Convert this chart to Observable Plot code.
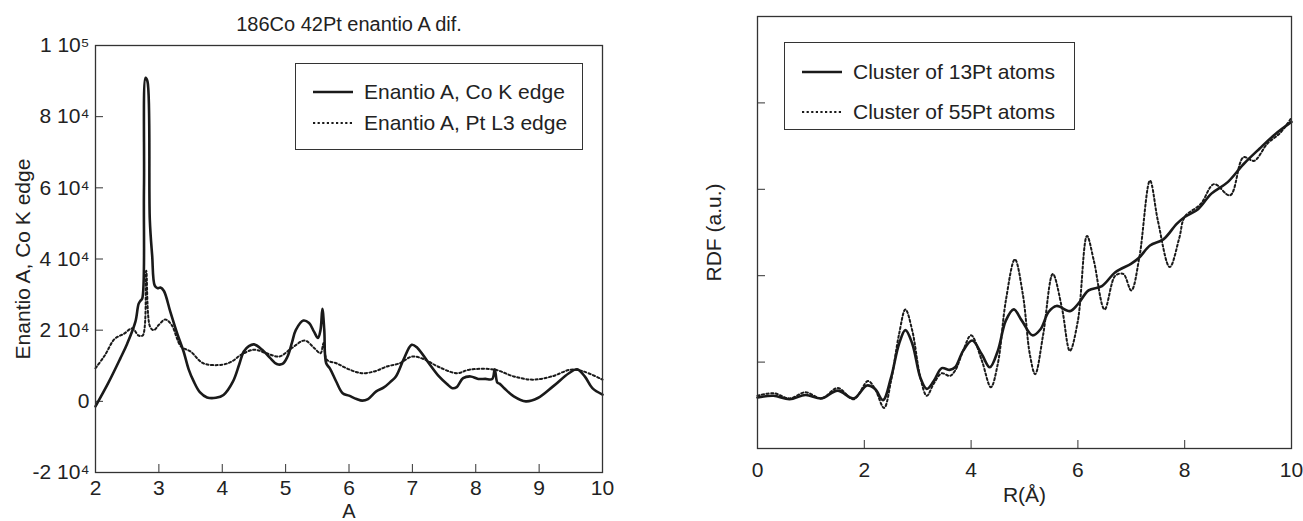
<!DOCTYPE html>
<html><head><meta charset="utf-8">
<script src="https://cdn.jsdelivr.net/npm/d3@7"></script>
<script src="https://cdn.jsdelivr.net/npm/@observablehq/plot@0.6"></script>
<style>
body{margin:0;background:#fff;font-family:"Liberation Sans",Arial,sans-serif;}
#wrap{position:relative;width:1303px;height:521px;overflow:hidden;background:#fff;}
.chart{position:absolute;top:0;}
.legend{position:absolute;border:1.3px solid #333;background:#fff;box-sizing:border-box;}
.item{position:absolute;display:flex;align-items:center;font-size:21px;color:#222;white-space:nowrap;height:24px;}
.item svg{margin-right:11px;}
</style></head><body><div id="wrap"></div><script>
// ---------- Left chart data ----------
const leftTitle = "186Co 42Pt enantio A dif.";
const leftXLabel = "A";
const leftYLabel = "Enantio A, Co K edge";
const leftSeriesNames = ["Enantio A, Co K edge", "Enantio A, Pt L3 edge"];
const leftXTicks = [2, 3, 4, 5, 6, 7, 8, 9, 10];
const leftYTicks = [-20000, 0, 20000, 40000, 60000, 80000, 100000];
const leftYTickLabels = ["-2 10\u2074", "0", "2 10\u2074", "4 10\u2074", "6 10\u2074", "8 10\u2074", "1 10\u2075"];

const coK_x = [2.0, 2.2, 2.39, 2.5, 2.63, 2.68, 2.71, 2.736, 2.765, 2.79, 2.82, 2.857, 2.894, 2.935, 2.98, 3.025, 3.08, 3.18, 3.29, 3.39, 3.47, 3.55, 3.65, 3.76, 3.9, 4.02, 4.17, 4.27, 4.34, 4.42, 4.5, 4.63, 4.75, 4.86, 4.95, 5.03, 5.1, 5.16, 5.28, 5.37, 5.45, 5.51, 5.55, 5.58, 5.61, 5.64, 5.7, 5.8, 5.9, 6.0, 6.12, 6.21, 6.3, 6.43, 6.55, 6.65, 6.74, 6.86, 6.99, 7.08, 7.24, 7.42, 7.55, 7.63, 7.7, 7.8, 7.92, 8.04, 8.15, 8.26, 8.3, 8.34, 8.38, 8.45, 8.6, 8.79, 8.98, 9.22, 9.47, 9.6, 9.72, 9.84, 10.0];
const coK_y = [-1400, 5100, 12000, 16200, 22400, 27400, 28300, 28800, 60000, 90900, 89900, 51000, 41000, 32500, 31800, 32000, 31000, 25200, 19000, 14000, 9000, 5600, 2500, 1100, 1000, 1800, 5600, 10500, 14000, 15500, 16000, 14500, 12300, 10500, 10500, 12600, 16500, 20000, 22700, 22000, 19500, 17800, 20000, 26000, 20000, 10700, 9200, 5500, 2300, 1600, 650, 190, 650, 2800, 3900, 5400, 7000, 11700, 15900, 15000, 11200, 7000, 4800, 3700, 4000, 6500, 7000, 6300, 6300, 6300, 9000, 5300, 4900, 3700, 1400, 0, 930, 4200, 7900, 9000, 7000, 3700, 1900];

const ptL3_x = [2.0, 2.15, 2.3, 2.45, 2.58, 2.68, 2.745, 2.8, 2.86, 2.92, 3.0, 3.1, 3.2, 3.35, 3.5, 3.7, 4.0, 4.15, 4.3, 4.5, 4.7, 4.9, 5.1, 5.3, 5.45, 5.55, 5.6, 5.65, 5.8, 6.0, 6.2, 6.4, 6.6, 6.8, 7.0, 7.2, 7.4, 7.7, 7.9, 8.3, 8.6, 8.9, 9.2, 9.5, 9.7, 10.0];
const ptL3_y = [9300, 13000, 17500, 19000, 20500, 18500, 18500, 36700, 21000, 20000, 21500, 23000, 21500, 15400, 14000, 10700, 10300, 11200, 13100, 14500, 13500, 12600, 15000, 17100, 15000, 13500, 16400, 11700, 10700, 9000, 7900, 8400, 9800, 10700, 12600, 11700, 9800, 7900, 8900, 8900, 7000, 6100, 7000, 8900, 8400, 6100];

// ---------- Right chart data ----------
const rightXLabel = "R(\u00c5)";
const rightYLabel = "RDF (a.u.)";
const rightSeriesNames = ["Cluster of 13Pt atoms", "Cluster of 55Pt atoms"];
const rightXTicks = [0, 2, 4, 6, 8, 10];
const rightYTicks = [1, 2, 3, 4];

const pt13_x = [0, 0.3, 0.6, 0.9, 1.2, 1.5, 1.8, 2.05, 2.2, 2.35, 2.5, 2.65, 2.77, 2.9, 3.05, 3.17, 3.3, 3.45, 3.6, 3.7, 3.85, 4.02, 4.2, 4.35, 4.5, 4.65, 4.8, 4.95, 5.15, 5.3, 5.45, 5.6, 5.85, 6.0, 6.2, 6.45, 6.7, 7.0, 7.15, 7.35, 7.6, 7.85, 8.0, 8.25, 8.5, 8.8, 9.1, 9.4, 9.7, 10.0];
const pt13_y = [0.59, 0.61, 0.57, 0.62, 0.58, 0.67, 0.58, 0.73, 0.69, 0.56, 0.82, 1.21, 1.37, 1.21, 0.82, 0.69, 0.78, 0.93, 0.91, 0.94, 1.13, 1.25, 1.09, 0.94, 1.13, 1.48, 1.61, 1.48, 1.31, 1.38, 1.58, 1.65, 1.59, 1.67, 1.83, 1.88, 2.04, 2.14, 2.21, 2.35, 2.42, 2.6, 2.68, 2.77, 2.95, 3.08, 3.29, 3.47, 3.64, 3.78];

const pt55_x = [0, 0.3, 0.6, 0.9, 1.2, 1.5, 1.8, 2.07, 2.2, 2.37, 2.5, 2.65, 2.77, 2.9, 3.05, 3.17, 3.3, 3.45, 3.6, 3.7, 3.85, 4.0, 4.2, 4.37, 4.5, 4.65, 4.82, 4.97, 5.1, 5.2, 5.35, 5.53, 5.7, 5.85, 6.0, 6.17, 6.3, 6.5, 6.7, 6.85, 7.0, 7.15, 7.35, 7.5, 7.72, 7.9, 8.0, 8.3, 8.55, 8.85, 9.1, 9.3, 9.55, 9.8, 10.0];
const pt55_y = [0.61, 0.64, 0.58, 0.65, 0.58, 0.7, 0.57, 0.78, 0.69, 0.47, 0.78, 1.32, 1.61, 1.36, 0.82, 0.61, 0.75, 0.87, 0.84, 0.9, 1.13, 1.31, 1.02, 0.71, 0.98, 1.71, 2.19, 1.78, 1.09, 0.86, 1.32, 2.02, 1.63, 1.13, 1.48, 2.46, 2.17, 1.61, 2.0, 2.02, 1.83, 2.21, 3.1, 2.63, 2.1, 2.44, 2.68, 2.83, 3.06, 2.93, 3.37, 3.33, 3.53, 3.66, 3.83];

const INK = "#1a1a1a";
const FONT = "'Liberation Sans', Arial, sans-serif";
const DOTS = "2.2,2.4";
const zip = (xs, ys) => xs.map((x, i) => ({x, y: ys[i]}));

const wrap = document.getElementById("wrap");

// ---------- Left chart ----------
const leftLabelMap = new Map(leftYTicks.map((v, i) => [v, leftYTickLabels[i]]));
const leftPlot = Plot.plot({
  width: 650, height: 521,
  marginLeft: 95, marginRight: 48, marginTop: 45, marginBottom: 49,
  style: {fontFamily: FONT, fontSize: "21px", color: "#222", background: "transparent", overflow: "visible"},
  x: {domain: [2, 10]},
  y: {domain: [-20000, 100000]},
  marks: [
    Plot.axisX({ticks: leftXTicks, tickSize: 8, dy: -8, tickPadding: 8, label: null, stroke: "#333"}),
    Plot.axisY({ticks: leftYTicks, tickSize: 8, dx: 8, tickPadding: 6, label: null, tickFormat: d => leftLabelMap.get(d), stroke: "#333"}),
    Plot.line(zip(ptL3_x, ptL3_y), {x: "x", y: "y", stroke: INK, strokeWidth: 2, strokeDasharray: DOTS, curve: "catmull-rom"}),
    Plot.line(zip(coK_x, coK_y), {x: "x", y: "y", stroke: INK, strokeWidth: 2.6, curve: "catmull-rom"}),
    Plot.frame({stroke: "#333", strokeWidth: 1.3}),
    Plot.text([leftTitle], {frameAnchor: "top", lineAnchor: "middle", dy: -21, fontSize: 20, fill: "#222"}),
    Plot.text([leftXLabel], {frameAnchor: "bottom", lineAnchor: "bottom", textAnchor: "middle", dy: 45, fontSize: 20, fill: "#222"}),
    Plot.text([leftYLabel], {frameAnchor: "left", textAnchor: "middle", lineAnchor: "middle", dx: -72, rotate: -90, fontSize: 21, fill: "#222"})
  ]
});
leftPlot.classList.add("chart");
leftPlot.style.left = "0px";
wrap.appendChild(leftPlot);

// ---------- Right chart ----------
const rightPlot = Plot.plot({
  width: 623, height: 521,
  marginLeft: 77, marginRight: 12, marginTop: 16, marginBottom: 73,
  style: {fontFamily: FONT, fontSize: "21px", color: "#222", background: "transparent", overflow: "visible"},
  x: {domain: [0, 10]},
  y: {domain: [0, 5]},
  marks: [
    Plot.axisX({ticks: rightXTicks, tickSize: 8, dy: -8, tickPadding: 14, label: null, stroke: "#333"}),
    Plot.axisY({ticks: rightYTicks, tickSize: 8, dx: 8, tickFormat: () => "", label: null, stroke: "#333"}),
    Plot.line(zip(pt55_x, pt55_y), {x: "x", y: "y", stroke: INK, strokeWidth: 2, strokeDasharray: DOTS, curve: "catmull-rom"}),
    Plot.line(zip(pt13_x, pt13_y), {x: "x", y: "y", stroke: INK, strokeWidth: 2.6, curve: "catmull-rom"}),
    Plot.frame({stroke: "#333", strokeWidth: 1.3}),
    Plot.text([rightXLabel], {frameAnchor: "bottom", lineAnchor: "middle", textAnchor: "middle", dy: 47, fontSize: 21, fill: "#222"}),
    Plot.text([rightYLabel], {frameAnchor: "left", textAnchor: "middle", lineAnchor: "middle", dx: -43, rotate: -90, fontSize: 21, fill: "#222"})
  ]
});
rightPlot.classList.add("chart");
rightPlot.style.left = "680px";
wrap.appendChild(rightPlot);

// ---------- Legends ----------
function legend(box, names, rows) {
  const div = document.createElement("div");
  div.className = "legend";
  Object.assign(div.style, {left: box.left + "px", top: box.top + "px", width: box.width + "px", height: box.height + "px"});
  names.forEach((name, i) => {
    const item = document.createElement("div");
    item.className = "item";
    item.style.left = rows.sx + "px";
    item.style.top = (rows.y[i] - 12) + "px";
    const dash = i === 0 ? "" : `stroke-dasharray="${DOTS}"`;
    const sw = i === 0 ? 2.6 : 2;
    item.innerHTML = `<svg width="40" height="10"><line x1="0" x2="40" y1="5" y2="5" stroke="${INK}" stroke-width="${sw}" ${dash}/></svg><span></span>`;
    item.querySelector("span").textContent = name;
    div.appendChild(item);
  });
  wrap.appendChild(div);
}
legend({left: 295, top: 63, width: 288, height: 87}, leftSeriesNames, {sx: 17, y: [28, 59]});
legend({left: 784, top: 42, width: 291, height: 88}, rightSeriesNames, {sx: 17, y: [29, 69]});
</script></body></html>
